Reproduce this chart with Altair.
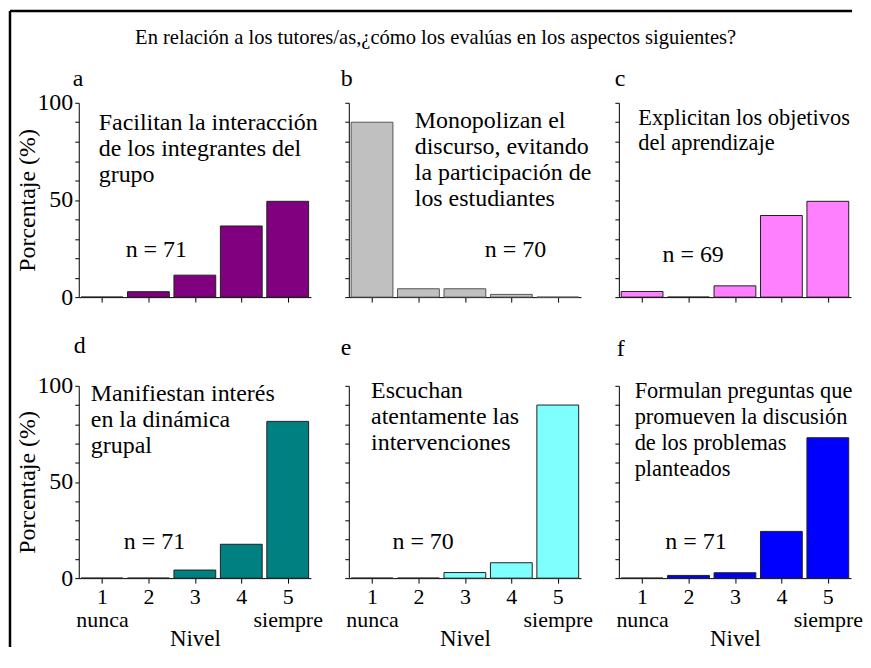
import altair as alt
import pandas as pd

# ---------------- data ----------------
levels = [1, 2, 3, 4, 5]
pct_a = [0.0, 2.8, 11.3, 36.6, 49.3]
pct_b = [90.0, 4.3, 4.3, 1.4, 0.0]
pct_c = [2.9, 0.0, 5.8, 42.0, 49.3]
pct_d = [0.0, 0.0, 4.2, 17.6, 81.5]
pct_e = [0.0, 0.0, 2.9, 8.0, 90.0]
pct_f = [0.0, 1.4, 2.8, 24.3, 73.0]
panel_letters = ["a", "b", "c", "d", "e", "f"]
panel_texts = [
    ["Facilitan la interacción", "de los integrantes del", "grupo"],
    ["Monopolizan el", "discurso, evitando", "la participación de", "los estudiantes"],
    ["Explicitan los objetivos", "del aprendizaje"],
    ["Manifiestan interés", "en la dinámica", "grupal"],
    ["Escuchan", "atentamente las", "intervenciones"],
    ["Formulan preguntas que", "promueven la discusión", "de los problemas", "planteados"],
]
n_labels = ["n = 71", "n = 70", "n = 69", "n = 71", "n = 70", "n = 71"]
level_tick_values = [1, 2, 3, 4, 5]
pct_tick_values = [0, 10, 20, 30, 40, 50, 60, 70, 80, 90, 100]
main_title = "En relación a los tutores/as,¿cómo los evalúas en los aspectos siguientes?"
y_title = "Porcentaje (%)"
x_title = "Nivel"

series = [pct_a, pct_b, pct_c, pct_d, pct_e, pct_f]

# ---------------- style ----------------
FONT = "Liberation Serif"
fills = ["#800080", "#c0c0c0", "#ff80ff", "#008080", "#80ffff", "#0000ff"]
edges = ["#202020", "#555555", "#202020", "#202020", "#202020", "#202020"]
W = 233
heights = [195, 195, 195, 193, 193, 193]
# annotation anchors (data units: level, percent)
desc_pos = [(0.93, 86.0), (1.92, 87.0), (0.92, 88.8), (0.76, 92.2), (0.98, 93.6), (0.84, 93.6)]
desc_size = [24, 24, 22.5, 24, 24, 22.5]
n_pos = [(1.51, 20.8), (3.43, 20.8), (1.44, 18.3), (1.47, 15.0), (1.44, 15.0), (1.50, 15.0)]
# panel letter placement (pixels from the plot's top-left corner)
letter_dx = [-6, -8, -4, -5, -8, -2]
letter_dy = [-17, -17, -17, -33, -31, -30]

x_label_expr = "datum.value == 1 ? ['1', 'nunca'] : datum.value == 5 ? ['5', 'siempre'] : datum.label"
y_label_expr = "datum.value % 50 == 0 ? datum.label : ''"

one_row = alt.Data(values=[{}])
x_scale = alt.Scale(domain=[0.5, 5.5], nice=False, zero=False)
y_scale = alt.Scale(domain=[0, 100], nice=False, zero=True)


def panel(i):
    df = pd.DataFrame({"level": levels, "pct": series[i]})
    left = i % 3 == 0
    bottom = i >= 3
    x_axis = alt.Axis(values=level_tick_values, labels=bottom, labelExpr=x_label_expr,
                      labelOverlap=False, labelFlush=False, labelPadding=3,
                      labelFontSize=22, labelLineHeight=24, tickSize=5,
                      title=x_title if bottom else None, titleFontSize=23, titlePadding=-3)
    y_axis = alt.Axis(values=pct_tick_values, labels=left, labelExpr=y_label_expr,
                      labelOverlap=False, labelFlush=False, labelPadding=2, tickSize=4,
                      title=y_title if left else None, titlePadding=-3)
    bars = alt.Chart(df).transform_calculate(
        x0="datum.level - 0.45", x1="datum.level + 0.45"
    ).mark_bar(fill=fills[i], stroke=edges[i], strokeWidth=1).encode(
        x=alt.X("x0:Q", scale=x_scale, axis=x_axis),
        x2="x1:Q",
        y=alt.Y("pct:Q", scale=y_scale, axis=y_axis),
        y2=alt.Y2Datum(0),
    )
    desc = alt.Chart(one_row).mark_text(
        text=panel_texts[i], align="left", baseline="alphabetic", font=FONT,
        fontSize=desc_size[i], lineHeight=26, color="black"
    ).encode(
        x=alt.XDatum(desc_pos[i][0], type="quantitative", scale=x_scale, axis=x_axis),
        y=alt.YDatum(desc_pos[i][1], type="quantitative", scale=y_scale, axis=y_axis),
    )
    ntext = alt.Chart(one_row).mark_text(
        text=n_labels[i], align="left", baseline="alphabetic", font=FONT,
        fontSize=24, color="black"
    ).encode(
        x=alt.XDatum(n_pos[i][0], type="quantitative", scale=x_scale, axis=x_axis),
        y=alt.YDatum(n_pos[i][1], type="quantitative", scale=y_scale, axis=y_axis),
    )
    letter = alt.Chart(one_row).mark_text(
        text=panel_letters[i], align="left", baseline="alphabetic", font=FONT,
        fontSize=24, color="black"
    ).encode(x=alt.value(letter_dx[i]), y=alt.value(letter_dy[i]))
    layers = [bars, desc, ntext, letter]
    if i == 0:
        # outer frame of the figure (left and top edges)
        top_border = alt.Chart(one_row).mark_rule(color="black", strokeWidth=2.5).encode(
            x=alt.value(-69), x2=alt.value(776), y=alt.value(-92))
        left_border = alt.Chart(one_row).mark_rule(color="black", strokeWidth=2.5).encode(
            x=alt.value(-69), y=alt.value(-92), y2=alt.value(546))
        layers += [top_border, left_border]
    return alt.layer(*layers).properties(width=W, height=heights[i])


chart = alt.concat(
    *[panel(i) for i in range(6)], columns=3,
    spacing={"row": 89, "column": 38}, bounds="flush"
).properties(
    title=alt.TitleParams(text=main_title, anchor="middle", font=FONT, fontSize=20.6,
                          fontWeight="normal", color="black", offset=-39),
    padding={"left": 0, "top": 0, "right": 0, "bottom": 0},
).configure_view(strokeWidth=0).configure_axis(
    labelFont=FONT, titleFont=FONT, labelFontSize=24, titleFontSize=24,
    labelColor="black", titleColor="black", titleFontWeight="normal",
    domainColor="black", tickColor="black", grid=False,
)

chart.save("out.html", embed_options={"renderer": "svg", "actions": False})
